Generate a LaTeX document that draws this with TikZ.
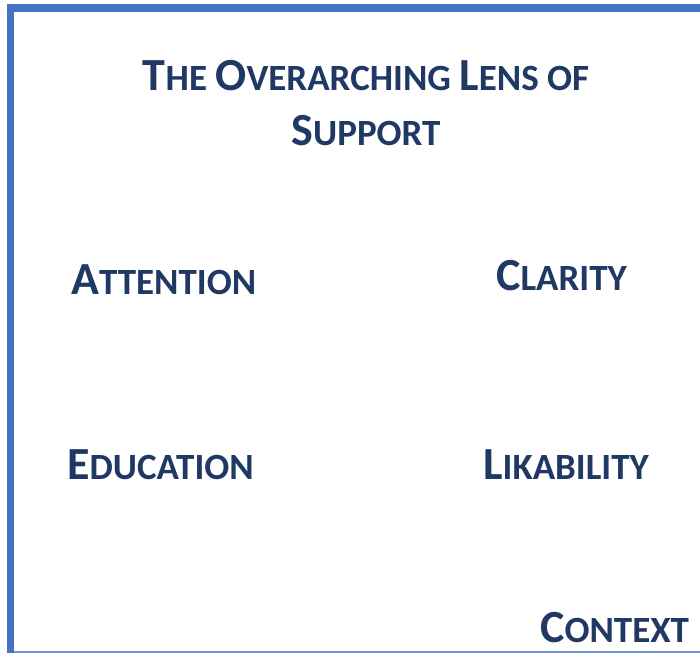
\documentclass[tikz,border=0pt]{standalone}
\usepackage{fontspec}
\setmainfont{Carlito}
\usetikzlibrary{positioning}
\definecolor{frameblue}{HTML}{4472C4}
\definecolor{lineblue}{HTML}{6C92D6}
\definecolor{inkblue}{HTML}{1F3864}
\newcommand*{\bigsz}{46}
\newcommand*{\smlsz}{37}
% first letter full size, the rest as small capitals
\newcommand*{\capword}[2]{{\fontsize{\bigsz}{\bigsz}\selectfont #1}{\fontsize{\smlsz}{\smlsz}\selectfont #2}}
\newcommand*{\smlword}[1]{{\fontsize{\smlsz}{\smlsz}\selectfont #1}}
\tikzset{
    label/.style={text=inkblue, font=\bfseries\fontsize{\smlsz}{\smlsz}\selectfont, inner sep=0pt, anchor=base west},
    title/.style={label, anchor=base}
}

\begin{document}
\begin{tikzpicture}[x=1pt, y=-1pt]
    \useasboundingbox (0,0) rectangle (700,653);
    \fill [white] (0,0) rectangle (700,653);
    % frame
    \fill [frameblue] (7,4) rectangle (700,12);
    \fill [frameblue] (7,4) rectangle (14,653);
    \draw [lineblue, line width=1.2pt] (14,652) -- (700,652);

    \node [title] (head)  at (366, 90) {\capword{T}{HE} \capword{O}{VERARCHING} \capword{L}{ENS} \smlword{OF}};
    \node [title] (head2) at (366,145) {\capword{S}{UPPORT}};

    \node [label] (attention)  at ( 71,294) {\capword{A}{TTENTION}};
    \node [label] (clarity)    at (496,290) {\capword{C}{LARITY}};
    \node [label] (education)  at ( 67,479) {\capword{E}{DUCATION}};
    \node [label] (likability) at (483,479) {\capword{L}{IKABILITY}};
    \node [label] (context)    at (540,642) {\capword{C}{ONTEXT}};
\end{tikzpicture}
\end{document}
